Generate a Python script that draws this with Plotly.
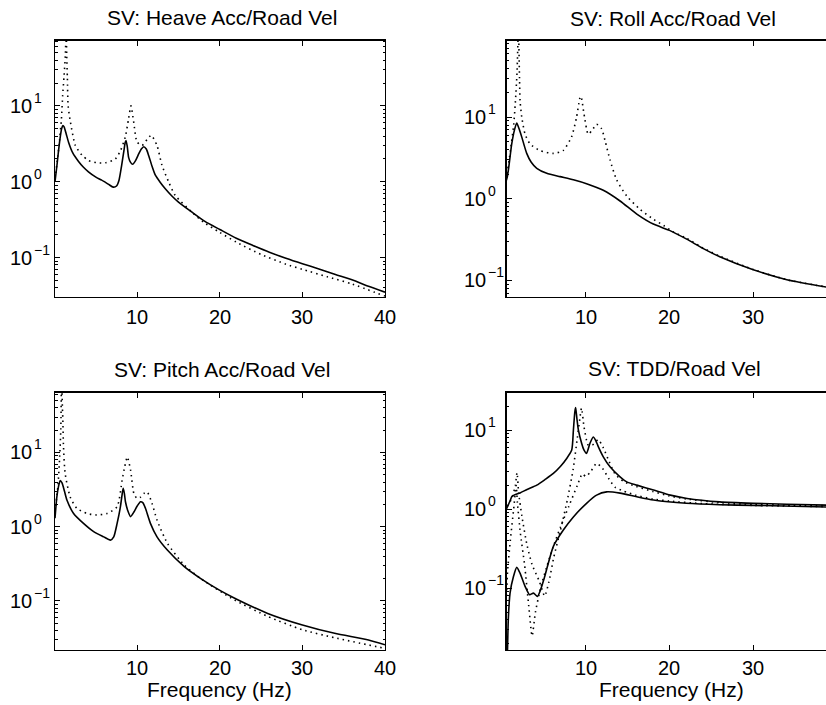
import math
import plotly.graph_objects as go

# ---------------- data ----------------
heave_f_solid = [0.05,0.3,0.5,0.7,0.85,1.0,1.15,1.4,1.7,2.2,2.9,3.5,4.1,5,5.7,6.5,7.1,7.5,7.8,8.1,8.4,8.55,8.65,8.8,8.96,9.2,9.45,9.8,10.2,10.5,10.8,11.1,11.4,11.8,12.2,12.8,13.4,14.2,15,16.6,18.2,20,22,24,26,28,30,32,34,36,38,40]
heave_v_solid = [1.0,1.7,2.7,4.0,5.0,5.5,5.3,4.3,3.3,2.4,1.85,1.55,1.35,1.15,1.05,0.93,0.85,0.88,1.05,1.6,2.6,3.3,3.5,2.9,2.1,1.8,1.7,1.9,2.35,2.7,2.9,2.7,2.2,1.6,1.22,0.98,0.81,0.65,0.54,0.40,0.30,0.235,0.18,0.145,0.118,0.098,0.083,0.071,0.060,0.051,0.042,0.035]
heave_f_dot = [0.05,0.4,0.6,0.83,0.98,1.15,1.3,1.4,1.47,1.55,1.64,1.91,2.52,3.33,4.13,5.14,6.15,7.36,8.0,8.56,8.96,9.25,9.57,9.98,10.58,11.2,11.7,12.4,13.0,13.8,14.6,16.6,18.0,20,22,25,28,30,33,36,40]
heave_v_dot = [1.1,2.2,3.5,6.8,13.8,25,46,100,46,23,10,6.2,3.0,2.24,1.9,1.78,1.78,2.0,2.6,3.9,6.8,10,6.2,3.35,3.0,3.6,4.1,3.0,1.65,1.0,0.66,0.40,0.295,0.215,0.16,0.11,0.082,0.07,0.056,0.045,0.031]

roll_f_solid = [0.1,0.66,1.17,1.5,1.77,2.05,2.37,2.96,3.5,4.16,5.35,6.94,8.53,10.1,12.1,14.1,16.1,18.07,20,22.05,24.04,26,30,34,38.7]
roll_v_solid = [1.2,1.9,4.7,7.0,8.5,7.2,5.7,3.6,2.8,2.36,2.05,1.87,1.71,1.53,1.27,0.94,0.65,0.49,0.41,0.32,0.245,0.195,0.135,0.102,0.083]
roll_f_dot = [0.1,0.66,1.0,1.4,1.6,1.8,1.97,2.1,2.17,2.37,2.76,3.36,4.55,6.14,7.3,8.3,8.9,9.3,9.44,9.8,10.3,10.8,11.3,11.9,12.3,12.9,13.7,14.9,16.5,18.1,19.3,20.5,22,24,26,30,34,38.7]
roll_v_dot = [1.3,2.2,3.8,8.0,15,35,120,30,15.7,10,6.2,4.7,3.9,3.6,3.9,5.7,9.9,17,18,10.9,6.2,7.0,8.2,7.2,5.2,3.0,1.7,1.08,0.74,0.56,0.47,0.39,0.33,0.25,0.198,0.136,0.102,0.083]

pitch_f_solid = [0.05,0.27,0.5,0.68,0.9,1.2,1.49,2.3,3.5,4.73,5.95,6.76,7.16,7.57,7.97,8.15,8.3,8.45,8.58,8.9,9.19,9.6,10.0,10.4,10.7,11.0,11.6,12.4,13.65,15.7,17.7,19.9,21.8,25.8,30,33.9,38,40]
pitch_v_solid = [1.3,2.5,3.6,4.2,3.9,3.0,2.29,1.51,1.11,0.86,0.73,0.66,0.73,1.11,1.86,2.6,3.3,2.8,2.17,1.6,1.37,1.58,1.9,2.17,2.1,1.77,1.11,0.73,0.485,0.29,0.20,0.141,0.109,0.068,0.0475,0.0367,0.0299,0.0257]
pitch_f_dot = [0.05,0.4,0.6,0.75,0.85,0.95,1.0,1.08,1.28,1.9,2.7,3.9,5.1,6.35,7.57,8.18,8.5,8.8,9.2,9.6,10.0,10.4,10.8,11.2,11.8,12.4,13.65,15.7,17.7,21.8,25.8,30,33.9,40]
pitch_v_dot = [1.6,3.5,8.0,20,100,40,27,11.9,5.2,2.5,1.77,1.51,1.44,1.51,1.86,4.25,6.5,8.7,5.8,2.8,2.4,2.5,2.8,2.95,2.06,1.23,0.60,0.305,0.20,0.103,0.062,0.041,0.032,0.023]

tdd_f_solid_a = [0.1,0.65,1.0,1.17,1.5,2.17,3.0,4.16,5.2,6.14,7.0,7.73,8.33,8.53,8.7,8.8,8.95,9.13,9.52,9.8,10.1,10.5,10.9,11.2,11.5,12.1,12.9,14.1,14.9,16.1,18.1,20.1,22.1,26,30,34,38.7]
tdd_v_solid_a = [0.8,1.07,1.3,1.44,1.52,1.61,1.78,2.02,2.4,2.84,3.5,4.39,5.6,10,17,19.3,14,10,6.8,5.6,5.1,6.8,8.2,7.4,6.2,4.6,3.44,2.57,2.22,2.02,1.75,1.51,1.37,1.24,1.19,1.16,1.13]
tdd_f_solid_b = [0.5,0.65,0.76,0.97,1.37,1.77,2.17,2.78,3.3,3.76,4.24,4.6,5.1,6.14,7.33,8.53,10.1,11.3,12.5,14.1,16.1,18.1,22,26,30,38.7]
tdd_v_solid_b = [0.005,0.014,0.04,0.087,0.14,0.184,0.155,0.105,0.083,0.087,0.079,0.095,0.14,0.34,0.546,0.80,1.19,1.51,1.66,1.6,1.44,1.31,1.19,1.14,1.12,1.07]
tdd_f_dot_a = [0.1,0.65,1.2,1.6,1.8,2.0,2.4,3.0,3.6,4.5,5.1,5.6,6.2,7.0,7.8,8.5,9.0,9.3,9.5,9.8,10.3,10.8,11.5,12.1,12.8,13.5,14.5,16,18,20,22,26,30,34,38.7]
tdd_v_dot_a = [1.0,1.1,1.4,2.0,2.9,1.6,0.8,0.35,0.2,0.12,0.08,0.12,0.25,0.55,1.3,3.2,8,14,19,11,6.5,6.5,7.6,6,4,2.8,2.25,1.95,1.68,1.47,1.35,1.22,1.16,1.13,1.11]
tdd_f_dot_b = [0.3,0.65,1.0,1.4,1.7,1.85,2.2,2.7,3.2,3.6,4.0,4.6,5.3,6.1,7.0,8.0,9.0,9.6,10.0,10.6,11.3,12.0,12.8,13.5,14.5,16,18,20,24,30,38.7]
tdd_v_dot_b = [0.01,0.15,0.4,1.0,2.0,1.2,0.5,0.2,0.06,0.025,0.05,0.1,0.18,0.33,0.6,1.1,2.0,2.8,2.6,3.0,3.8,3.3,2.4,1.9,1.7,1.5,1.35,1.27,1.18,1.12,1.08]

titles = ["SV: Heave Acc/Road Vel", "SV: Roll Acc/Road Vel",
          "SV: Pitch Acc/Road Vel", "SV: TDD/Road Vel"]
x_ticks = [10, 20, 30, 40]
y_ticks = [0.1, 1, 10]
y_tick_exp = ["\u22121", "0", "1"]
xlabel = "Frequency (Hz)"

# ---------------- figure ----------------
W, H = 826, 705
FONT = "Liberation Sans, Arial, Helvetica, sans-serif"
fig = go.Figure()

solid = dict(color="black", width=1.6, shape="spline", smoothing=0.6)
dotted = dict(color="black", width=1.6, dash="1.5px,4px", shape="spline", smoothing=0.6)

def add(fx, vy, line, n):
    fig.add_trace(go.Scatter(x=fx, y=vy, mode="lines", line=line,
                             xaxis="x" if n == 1 else f"x{n}",
                             yaxis="y" if n == 1 else f"y{n}",
                             showlegend=False, hoverinfo="skip"))

add(heave_f_dot, heave_v_dot, dotted, 1)
add(heave_f_solid, heave_v_solid, solid, 1)
add(roll_f_dot, roll_v_dot, dotted, 2)
add(roll_f_solid, roll_v_solid, solid, 2)
add(pitch_f_dot, pitch_v_dot, dotted, 3)
add(pitch_f_solid, pitch_v_solid, solid, 3)
add(tdd_f_dot_a, tdd_v_dot_a, dotted, 4)
add(tdd_f_dot_b, tdd_v_dot_b, dotted, 4)
add(tdd_f_solid_a, tdd_v_solid_a, solid, 4)
add(tdd_f_solid_b, tdd_v_solid_b, solid, 4)

def px_x(p):
    return p / W

def px_y(p):
    return 1 - p / H

left_dom = [px_x(55), px_x(385)]
right_dom = [px_x(506.7), 1.0]
top_dom = [px_y(296.7), px_y(40.5)]
bot_dom = [px_y(650), px_y(392.5)]

minor_vals = [m * 10 ** e for e in range(-3, 3) for m in range(2, 10)]

def xax(dom, anchor, rng, mirror):
    return dict(domain=dom, anchor=anchor, range=rng, showgrid=False, zeroline=False,
                showline=True, linecolor="black", linewidth=1.3, mirror=mirror,
                ticks="inside", ticklen=5, tickwidth=1, tickcolor="black",
                tickmode="array", tickvals=x_ticks, showticklabels=False)

def yax(dom, anchor, rng, mirror):
    return dict(domain=dom, anchor=anchor, type="log", range=rng, showgrid=False,
                zeroline=False, showline=True, linecolor="black", linewidth=1.3,
                mirror=mirror, ticks="inside", ticklen=5, tickwidth=1, tickcolor="black",
                tickmode="array", tickvals=y_ticks, showticklabels=False,
                minor=dict(ticks="inside", ticklen=2.5, tickwidth=1, tickcolor="black",
                           tickmode="array", tickvals=minor_vals, showgrid=False))

ranges_x = {1: [0.05, 40], 2: [0.57, 38.68], 3: [0.05, 40], 4: [0.57, 38.68]}
ranges_y = {1: [-1.515, 1.862], 2: [-1.2, 1.94], 3: [-1.66, 1.808], 4: [-1.78, 1.477]}

fig.update_layout(
    width=W, height=H, margin=dict(l=0, r=0, t=0, b=0),
    paper_bgcolor="white", plot_bgcolor="white", showlegend=False,
    xaxis=xax(left_dom, "y", ranges_x[1], "ticks"),
    yaxis=yax(top_dom, "x", ranges_y[1], "ticks"),
    xaxis2=xax(right_dom, "y2", ranges_x[2], "ticks"),
    yaxis2=yax(top_dom, "x2", ranges_y[2], False),
    xaxis3=xax(left_dom, "y3", ranges_x[3], "ticks"),
    yaxis3=yax(bot_dom, "x3", ranges_y[3], "ticks"),
    xaxis4=xax(right_dom, "y4", ranges_x[4], "ticks"),
    yaxis4=yax(bot_dom, "x4", ranges_y[4], False),
)

TXT = dict(family=FONT, size=21, color="black")
TICK = dict(family=FONT, size=20, color="black")
SUP = dict(family=FONT, size=14, color="black")

# titles
title_pos = [(222, 17), (673, 18), (222, 369), (674, 368)]
for t, (cx, cy) in zip(titles, title_pos):
    fig.add_annotation(text=t, x=px_x(cx), y=px_y(cy), xref="paper", yref="paper",
                       xanchor="center", yanchor="middle", showarrow=False, font=TXT)

# x axis labels
for cx in (219, 671):
    fig.add_annotation(text=xlabel, x=px_x(cx), y=px_y(689), xref="paper", yref="paper",
                       xanchor="center", yanchor="middle", showarrow=False, font=TXT)

# tick labels
label_row_y = {1: 317, 2: 317, 3: 667.5, 4: 667.5}
label_left_x = {1: 8, 2: 462, 3: 8, 4: 462}
for n in (1, 2, 3, 4):
    xr = "x" if n == 1 else f"x{n}"
    yr = "y" if n == 1 else f"y{n}"
    for t in x_ticks:
        if ranges_x[n][0] <= t <= ranges_x[n][1]:
            fig.add_annotation(text=str(t), x=t, y=px_y(label_row_y[n]), xref=xr,
                               yref="paper", xanchor="center", yanchor="middle",
                               showarrow=False, font=TICK)
    for v, e in zip(y_ticks, y_tick_exp):
        fig.add_annotation(text="10", x=px_x(label_left_x[n]), y=math.log10(v),
                           xref="paper", yref=yr, xanchor="left", yanchor="middle",
                           showarrow=False, font=TICK)
        fig.add_annotation(text=e, x=px_x(label_left_x[n] + 23.5), y=math.log10(v),
                           xref="paper", yref=yr, xanchor="left", yanchor="middle",
                           yshift=8, showarrow=False, font=SUP)

fig.write_html("out.html", config={"displayModeBar": False, "staticPlot": True},
               post_script="document.body.style.margin='0';document.body.style.overflow='hidden';")
